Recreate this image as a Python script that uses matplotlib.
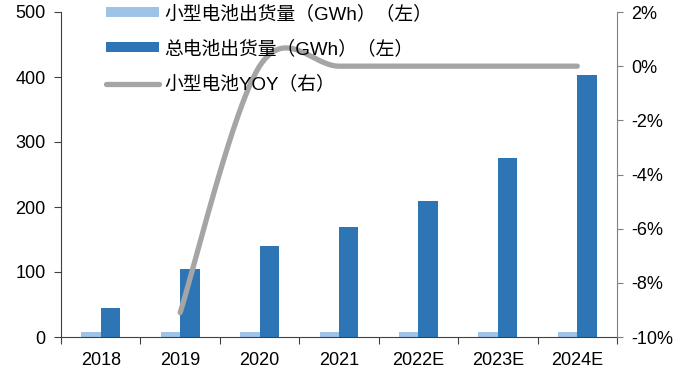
import matplotlib
matplotlib.use("Agg")
import matplotlib.pyplot as plt
from matplotlib.ticker import FuncFormatter, FixedLocator
import numpy as np

plt.rcParams['font.family'] = ['Liberation Sans', 'Noto Sans CJK SC', 'DejaVu Sans']

years = ['2018', '2019', '2020', '2021', '2022E', '2023E', '2024E']
small_shipments = [8, 8, 8, 8, 8, 8, 8]            # GWh
total_shipments = [45, 105, 140, 170, 210, 275, 403]  # GWh
small_yoy = [None, -9.1, 0.0, 0.0, 0.0, 0.0, 0.0]  # %

labels = ['小型电池出货量（GWh）（左）', '总电池出货量（GWh）（左）', '小型电池YOY（右）']
c_small = '#9DC3E6'
c_total = '#2E75B6'
c_line = '#A5A5A5'


def smooth_curve(xs, ys, n=60):
    """Bezier smoothing through the points (Catmull-Rom style control points)."""
    pts = np.column_stack([xs, ys]).astype(float)
    out = []
    for i in range(len(pts) - 1):
        p0 = pts[i - 1] if i > 0 else pts[i]
        p1, p2 = pts[i], pts[i + 1]
        p3 = pts[i + 2] if i + 2 < len(pts) else pts[i + 1]
        c1 = p1 + (p2 - p0) / 6.0
        c2 = p2 - (p3 - p1) / 6.0
        t = np.linspace(0, 1, n)[:, None]
        seg = ((1 - t) ** 3) * p1 + 3 * ((1 - t) ** 2) * t * c1 + 3 * (1 - t) * t ** 2 * c2 + t ** 3 * p2
        out.append(seg if i == 0 else seg[1:])
    return np.vstack(out)


fig = plt.figure(figsize=(6.88, 3.76), dpi=100)
ax = fig.add_axes([61 / 688, 1 - 337 / 376, 556 / 688, 325 / 376])
ax2 = ax.twinx()

x = np.arange(len(years))
w = 0.245
b1 = ax.bar(x - w / 2, small_shipments, w, color=c_small, label=labels[0], zorder=2)
b2 = ax.bar(x + w / 2, total_shipments, w, color=c_total, label=labels[1], zorder=2)

ax.set_xlim(-0.5, len(years) - 0.5)
ax.set_ylim(0, 500)
ax.set_yticks(range(0, 501, 100))
ax.set_xticks(x)
ax.set_xticklabels(years)
ax.xaxis.set_minor_locator(FixedLocator(np.arange(-0.5, len(years), 1.0)))
ax.tick_params(axis='x', which='major', length=0, pad=11, labelsize=13)
ax.tick_params(axis='x', which='minor', length=5, width=0.8, color='#404040', direction='out')
ax.tick_params(axis='y', length=5, width=0.8, color='#404040', labelsize=13, pad=6)

for s in ['top', 'right']:
    ax.spines[s].set_visible(False)
ax.spines['left'].set_color('#404040')
ax.spines['bottom'].set_color('#404040')
ax.spines['left'].set_linewidth(0.8)
ax.spines['bottom'].set_linewidth(0.8)

# YOY line on the right axis
yx = [xi for xi, v in zip(x, small_yoy) if v is not None]
yv = [v for v in small_yoy if v is not None]
curve = smooth_curve(yx, yv)
ln, = ax2.plot(curve[:, 0], curve[:, 1], color=c_line, lw=3.8,
               solid_capstyle='round', label=labels[2], zorder=3)
ax2.set_ylim(-10, 2)
ax2.set_yticks(range(-10, 3, 2))
ax2.yaxis.set_major_formatter(FuncFormatter(lambda v, p: f'{int(v)}%'))
ax2.tick_params(axis='y', length=4, width=0.8, color='#808080', labelsize=13, pad=6)
for s in ['top', 'left', 'bottom']:
    ax2.spines[s].set_visible(False)
ax2.spines['right'].set_color('#808080')
ax2.spines['right'].set_linewidth(0.8)

leg = ax2.legend(handles=[b1, b2, ln], labels=labels, loc='upper left',
                 bbox_to_anchor=(106 / 688, 1 - 5 / 376), bbox_transform=fig.transFigure,
                 frameon=False, fontsize=13.5, handlelength=2.8, handleheight=0.45,
                 handletextpad=0.3, labelspacing=0.93, borderpad=0, borderaxespad=0)

fig.savefig('out.png', dpi=100)
